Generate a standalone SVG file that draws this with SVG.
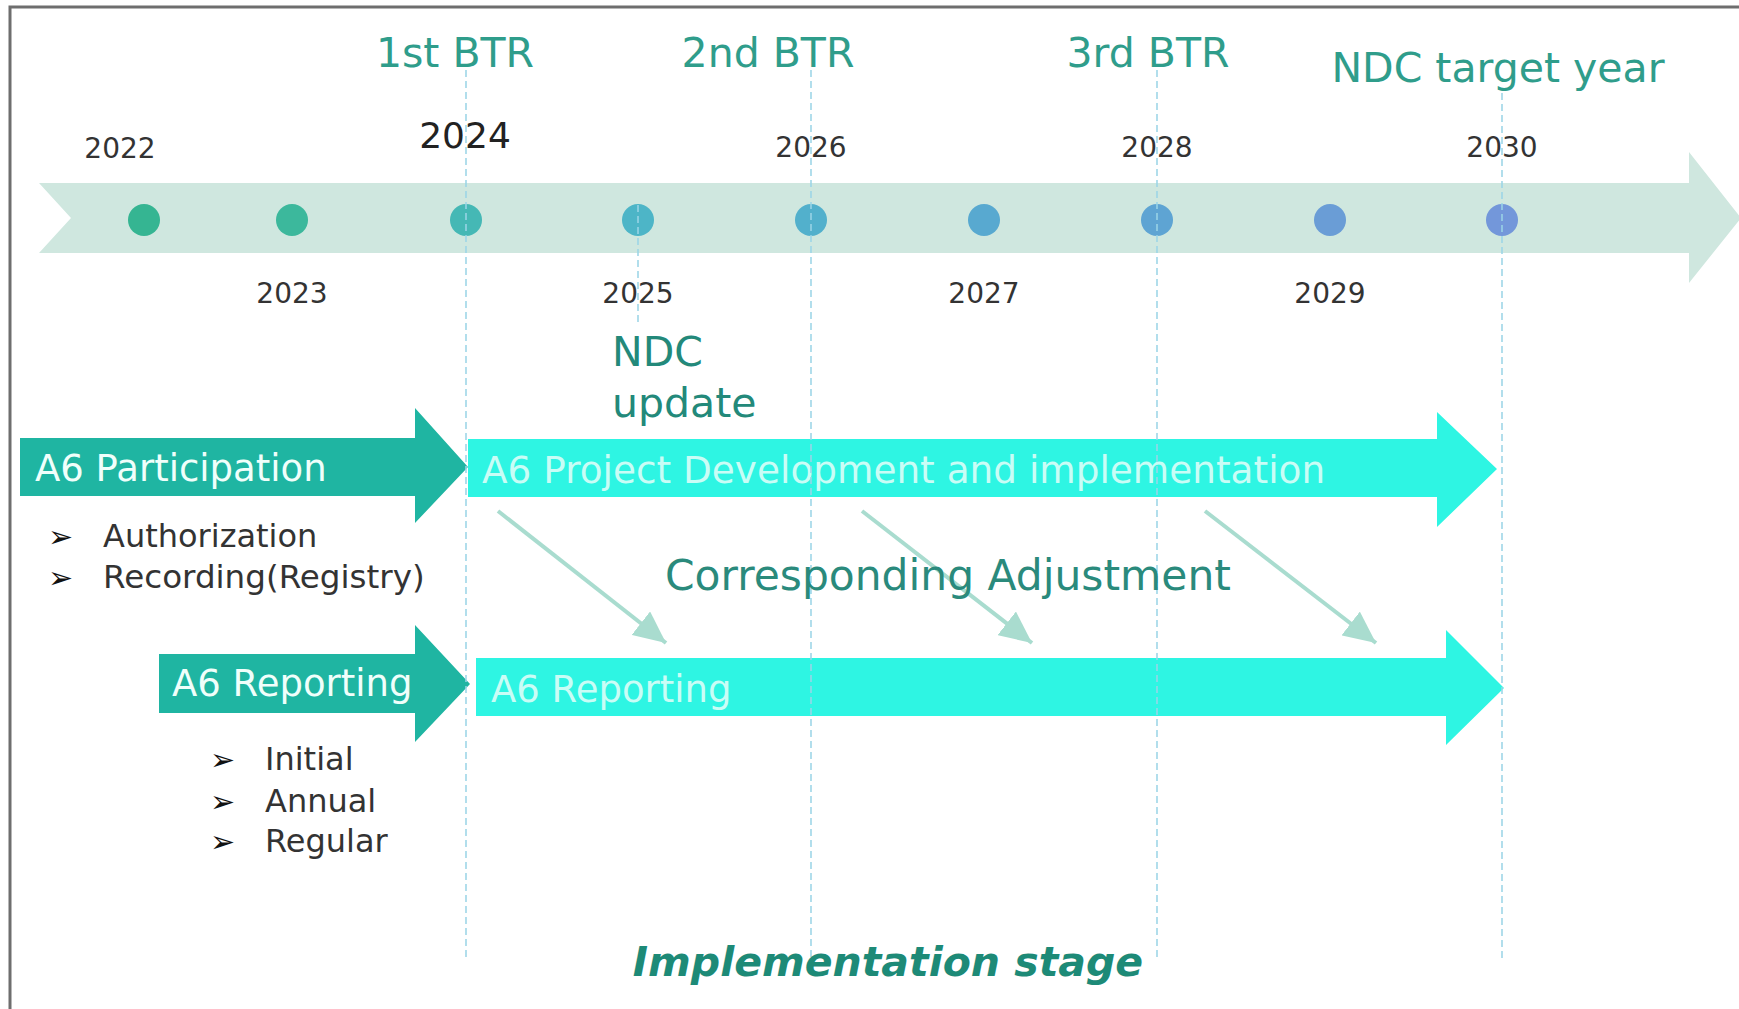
<svg xmlns="http://www.w3.org/2000/svg" width="1739" height="1009" viewBox="0 0 1739 1009">
<style>
  .title{font-family:"DejaVu Sans",Verdana,sans-serif;font-size:41px;fill:#2f9d8b;text-anchor:middle}
  .year{font-family:"DejaVu Sans",Verdana,sans-serif;font-size:28px;fill:#333;text-anchor:middle}
  .bar-dark{fill:#1fb5a2}
  .bar-light{fill:#2ef5e3}
  .lbl{font-family:"DejaVu Sans",Verdana,sans-serif;font-size:37px}
  .lbl-dark{fill:#f0fffb}
  .lbl-light{fill:#c9fdf6}
  .bul{font-family:"DejaVu Sans",Verdana,sans-serif;font-size:32px;fill:#333}
  .mark{font-family:"DejaVu Sans",sans-serif;font-size:30px;fill:#111}
  .vline{stroke:#9ad4e6;stroke-width:1.7;stroke-dasharray:7 4;fill:none;opacity:0.9}
  .diag{stroke:#a9dccf;stroke-width:4;fill:none}
</style>
<defs>
  <marker id="ah" viewBox="0 0 32 30" refX="32" refY="15" markerWidth="32" markerHeight="30" markerUnits="userSpaceOnUse" orient="auto">
    <path d="M0,0 L32,15 L0,30 Z" fill="#a9dccf"/>
  </marker>
</defs>
<rect width="1739" height="1009" fill="#ffffff"/>
<!-- frame -->
<path d="M10,1009 V7 H1739" fill="none" stroke="#6e6e6e" stroke-width="3"/>

<!-- timeline band -->
<g id="timeline">
  <path d="M39,183 H1689 V152 L1741,218 L1689,283 V253 H39 L71,218 Z" fill="#cfe7df"/>
  <circle cx="144" cy="220" r="16" fill="#35b592"/>
  <circle cx="292" cy="220" r="16" fill="#3cb89c"/>
  <circle cx="466" cy="220" r="16" fill="#45b8b5"/>
  <circle cx="638" cy="220" r="16" fill="#4db5c7"/>
  <circle cx="811" cy="220" r="16" fill="#52b0cc"/>
  <circle cx="984" cy="220" r="16" fill="#58a9d0"/>
  <circle cx="1157" cy="220" r="16" fill="#5ea4d3"/>
  <circle cx="1330" cy="220" r="16" fill="#6a9dd6"/>
  <circle cx="1502" cy="220" r="16" fill="#7397da"/>
</g>

<!-- bars -->
<g id="a6-participation">
  <path class="bar-dark" d="M20,438 H415 V408 L468,467 L415,523 V496 H20 Z"/>
  <text class="lbl lbl-dark" x="35" y="481">A6 Participation</text>
</g>
<g id="a6-project">
  <path class="bar-light" d="M468,439 H1437 V412 L1497,469 L1437,527 V497 H468 Z"/>
  <text class="lbl lbl-light" x="482" y="483" style="font-size:37.4px">A6 Project Development and implementation</text>
</g>
<g id="a6-reporting-left">
  <path class="bar-dark" d="M159,654 H415 V625 L470,684 L415,742 V713 H159 Z"/>
  <text class="lbl lbl-dark" x="172" y="696">A6 Reporting</text>
</g>
<g id="a6-reporting-right">
  <path class="bar-light" d="M476,658 H1446 V630 L1504,688 L1446,745 V716 H476 Z"/>
  <text class="lbl lbl-light" x="491" y="702">A6 Reporting</text>
</g>

<!-- connectors -->
<g id="connectors">
  <line class="diag" x1="498" y1="511" x2="666" y2="643" marker-end="url(#ah)"/>
  <line class="diag" x1="862" y1="511" x2="1032" y2="643" marker-end="url(#ah)"/>
  <line class="diag" x1="1205" y1="511" x2="1376" y2="643" marker-end="url(#ah)"/>
  <line class="vline" x1="466" y1="70" x2="466" y2="960"/>
  <line class="vline" x1="638" y1="205" x2="638" y2="325"/>
  <line class="vline" x1="811" y1="70" x2="811" y2="960"/>
  <line class="vline" x1="1157" y1="70" x2="1157" y2="960"/>
  <line class="vline" x1="1502" y1="93" x2="1502" y2="960"/>
</g>

<!-- labels -->
<g id="milestones">
  <text class="title" x="455" y="67">1st BTR</text>
  <text class="title" x="768" y="67">2nd BTR</text>
  <text class="title" x="1148" y="67">3rd BTR</text>
  <text class="title" x="1498" y="82">NDC target year</text>
</g>
<g id="years">
  <text class="year" x="120" y="158">2022</text>
  <text class="year" x="292" y="303">2023</text>
  <text class="year" x="465" y="148" style="font-size:36px;fill:#222">2024</text>
  <text class="year" x="638" y="303">2025</text>
  <text class="year" x="811" y="157">2026</text>
  <text class="year" x="984" y="303">2027</text>
  <text class="year" x="1157" y="157">2028</text>
  <text class="year" x="1330" y="303">2029</text>
  <text class="year" x="1502" y="157">2030</text>
</g>
<g id="ndc-update">
  <text class="title" x="612" y="366" style="text-anchor:start;fill:#23897a">NDC</text>
  <text class="title" x="612" y="417" style="text-anchor:start;fill:#23897a">update</text>
</g>
<g id="corresponding-adjustment">
  <text class="title" x="665" y="590" style="text-anchor:start;fill:#2a8a7c;font-size:42.4px">Corresponding Adjustment</text>
</g>
<g id="participation-items">
  <text class="mark" x="48" y="547">➢</text>
  <text class="bul" x="103" y="547">Authorization</text>
  <text class="mark" x="48" y="588">➢</text>
  <text class="bul" x="103" y="588" style="font-size:32.6px">Recording(Registry)</text>
</g>
<g id="reporting-items">
  <text class="mark" x="210" y="770">➢</text>
  <text class="bul" x="265" y="770">Initial</text>
  <text class="mark" x="210" y="812">➢</text>
  <text class="bul" x="265" y="812">Annual</text>
  <text class="mark" x="210" y="852">➢</text>
  <text class="bul" x="265" y="852">Regular</text>
</g>
<g id="stage">
  <text x="888" y="976" style="font-family:'DejaVu Sans',Verdana,sans-serif;font-size:41px;font-weight:bold;font-style:italic;fill:#1d8a77;text-anchor:middle">Implementation stage</text>
</g>
</svg>
